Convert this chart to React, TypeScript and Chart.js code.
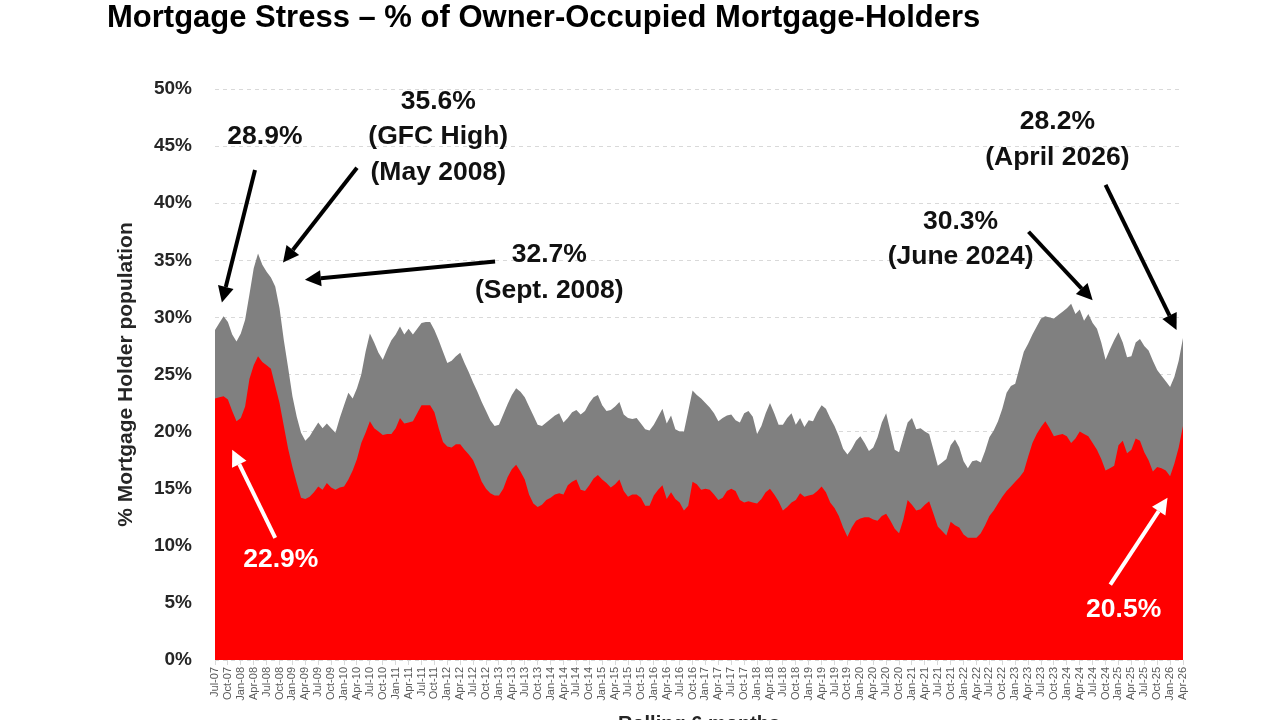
import React, { useEffect, useRef } from 'react';
import { Chart, registerables } from 'chart.js';

Chart.register(...registerables);

// ---------- categories (monthly, Jul-07 .. Apr-26) ----------
const MONTH_NAMES = ['Jan', 'Feb', 'Mar', 'Apr', 'May', 'Jun', 'Jul', 'Aug', 'Sep', 'Oct', 'Nov', 'Dec'];
const START_YEAR = 2007;
const START_MONTH = 6; // July
const MONTH_COUNT = 226;
const categories: string[] = Array.from({ length: MONTH_COUNT }, (_, i) => {
  const m = (START_MONTH + i) % 12;
  const y = START_YEAR + Math.floor((START_MONTH + i) / 12);
  return `${MONTH_NAMES[m]}-${String(y % 100).padStart(2, '0')}`;
});

// ---------- series (% of owner-occupied mortgage holders) ----------
// Grey area: mortgage holders "at risk" (total mortgage stress)
const atRisk: number[] = [
  // 2007 Jul-Dec
  28.9, 29.5, 30.1, 29.6, 28.5, 27.9,
  // 2008
  28.6, 29.8, 32.0, 34.3, 35.6, 34.6, 34.0, 33.5, 32.7, 30.8, 28.0, 25.6,
  // 2009
  23.1, 21.3, 19.9, 19.2, 19.6, 20.2, 20.8, 20.3, 20.7, 20.3, 19.9, 21.2,
  // 2010
  22.3, 23.4, 22.9, 23.8, 25.0, 27.0, 28.6, 27.8, 26.9, 26.3, 27.2, 28.0,
  // 2011
  28.5, 29.2, 28.5, 29.0, 28.5, 29.0, 29.5, 29.6, 29.6, 28.9, 28.0, 27.0,
  // 2012
  26.0, 26.2, 26.6, 26.9, 26.0, 25.2, 24.3, 23.5, 22.6, 21.8, 21.0, 20.5,
  // 2013
  20.6, 21.5, 22.4, 23.2, 23.8, 23.5, 23.0, 22.2, 21.4, 20.6, 20.5, 20.8,
  // 2014
  21.1, 21.4, 21.6, 20.8, 21.2, 21.7, 21.9, 21.5, 21.8, 22.5, 23.0, 23.2,
  // 2015
  22.3, 21.8, 21.9, 22.2, 22.6, 21.5, 21.2, 21.1, 21.2, 20.7, 20.2, 20.1,
  // 2016
  20.6, 21.3, 22.0, 20.7, 21.4, 20.2, 20.0, 20.0, 21.8, 23.6, 23.2, 22.9,
  // 2017
  22.5, 22.1, 21.6, 20.9, 21.2, 21.4, 21.5, 21.0, 20.8, 21.6, 21.8, 21.3,
  // 2018
  19.8, 20.5, 21.6, 22.5, 21.6, 20.6, 20.6, 21.2, 21.6, 20.6, 21.2, 20.4,
  // 2019
  21.0, 20.9, 21.7, 22.3, 22.0, 21.2, 20.5, 19.6, 18.5, 18.0, 18.5, 19.2,
  // 2020
  19.6, 19.0, 18.3, 18.6, 19.5, 20.8, 21.6, 20.0, 18.4, 18.2, 19.5, 20.8,
  // 2021
  21.2, 20.2, 20.3, 20.0, 19.8, 18.4, 17.0, 17.3, 17.6, 18.8, 19.3, 18.6,
  // 2022
  17.4, 16.8, 17.4, 17.5, 17.3, 18.3, 19.5, 20.1, 20.9, 22.0, 23.4, 24.0,
  // 2023
  24.2, 25.6, 27.0, 27.7, 28.5, 29.2, 29.9, 30.1, 30.0, 29.9, 30.2, 30.5,
  // 2024
  30.8, 31.2, 30.3, 30.7, 29.7, 30.3, 29.5, 29.0, 27.8, 26.3, 27.2, 28.0,
  // 2025
  28.7, 27.8, 26.5, 26.6, 27.8, 28.1, 27.5, 27.1, 26.2, 25.4, 24.9, 24.4,
  // 2026 Jan-Apr
  23.9, 24.8, 26.2, 28.2,
];

// Red area: mortgage holders "extremely at risk"
const extremelyAtRisk: number[] = [
  // 2007 Jul-Dec
  22.9, 23.0, 23.1, 22.8, 21.8, 20.9,
  // 2008
  21.2, 22.2, 24.6, 25.8, 26.6, 26.1, 25.8, 25.5, 24.0, 22.5, 20.5, 18.5,
  // 2009
  16.9, 15.5, 14.2, 14.1, 14.3, 14.7, 15.2, 14.9, 15.5, 15.1, 14.9, 15.1,
  // 2010
  15.2, 15.8, 16.6, 17.6, 19.0, 19.9, 20.9, 20.3, 20.0, 19.7, 19.8, 19.8,
  // 2011
  20.3, 21.2, 20.7, 20.8, 20.9, 21.6, 22.3, 22.3, 22.3, 21.7, 20.3, 19.1,
  // 2012
  18.7, 18.6, 18.9, 18.9, 18.4, 18.0, 17.5, 16.6, 15.6, 15.0, 14.6, 14.4,
  // 2013
  14.4, 15.0, 16.0, 16.7, 17.1, 16.5, 15.8, 14.5, 13.7, 13.4, 13.6, 14.0,
  // 2014
  14.2, 14.5, 14.6, 14.5, 15.3, 15.6, 15.8, 14.9, 14.8, 15.3, 15.9, 16.2,
  // 2015
  15.8, 15.5, 15.1, 15.4, 15.8, 14.8, 14.3, 14.5, 14.5, 14.2, 13.5, 13.5,
  // 2016
  14.4, 14.9, 15.3, 14.1, 14.7, 14.1, 13.8, 13.1, 13.5, 15.6, 15.4, 14.9,
  // 2017
  15.0, 14.9, 14.5, 14.0, 14.2, 14.8, 15.0, 14.8, 14.0, 13.8, 13.9, 13.8,
  // 2018
  13.7, 14.1, 14.7, 15.0, 14.5, 13.9, 13.1, 13.4, 13.8, 14.0, 14.6, 14.3,
  // 2019
  14.4, 14.5, 14.8, 15.2, 14.7, 13.8, 13.3, 12.6, 11.6, 10.8, 11.6, 12.2,
  // 2020
  12.4, 12.5, 12.5, 12.3, 12.2, 12.6, 12.8, 12.2, 11.5, 11.1, 12.3, 14.0,
  // 2021
  13.6, 13.1, 13.2, 13.6, 13.9, 12.8, 11.7, 11.3, 10.9, 12.1, 11.8, 11.6,
  // 2022
  11.0, 10.7, 10.7, 10.7, 11.1, 11.8, 12.6, 13.1, 13.7, 14.3, 14.8, 15.2,
  // 2023
  15.6, 16.0, 16.5, 17.8, 19.0, 19.8, 20.4, 20.9, 20.3, 19.6, 19.7, 19.8,
  // 2024
  19.6, 19.0, 19.4, 20.0, 19.8, 19.6, 19.0, 18.4, 17.6, 16.6, 16.8, 17.0,
  // 2025
  18.8, 19.2, 18.1, 18.4, 19.4, 19.2, 18.2, 17.5, 16.5, 16.9, 16.8, 16.6,
  // 2026 Jan-Apr
  16.1, 17.2, 18.6, 20.5,
];

// ---------- axis ----------
const Y_MIN = 0;
const Y_MAX = 50;
const Y_STEP = 5;
const TICK_EVERY = 3; // a tick label every quarter

// ---------- text ----------
const TITLE = 'Mortgage Stress \u2013 % of Owner-Occupied Mortgage-Holders';
const Y_TITLE = '% Mortgage Holder population';
const X_TITLE = 'Rolling 6 months';

// ---------- annotations (positions in data space: month index, % value) ----------
type Note = { lines: string[]; x: number; y: number[]; color: string };
const notes: Note[] = [
  { lines: ['28.9%'], x: 11.6, y: [45.8], color: '#111111' },
  { lines: ['35.6%', '(GFC High)', '(May 2008)'], x: 51.9, y: [48.9, 45.8, 42.7], color: '#111111' },
  { lines: ['32.7%', '(Sept. 2008)'], x: 77.7, y: [35.5, 32.3], color: '#111111' },
  { lines: ['30.3%', '(June 2024)'], x: 173.3, y: [38.4, 35.3], color: '#111111' },
  { lines: ['28.2%', '(April 2026)'], x: 195.8, y: [47.1, 44.0], color: '#111111' },
  { lines: ['22.9%'], x: 15.3, y: [8.8], color: '#ffffff' },
  { lines: ['20.5%'], x: 211.2, y: [4.4], color: '#ffffff' },
];
type Arrow = { from: [number, number]; to: [number, number]; color: string };
const arrows: Arrow[] = [
  { from: [9.3, 42.9], to: [1.6, 31.3], color: '#000000' },
  { from: [33.0, 43.1], to: [15.8, 34.8], color: '#000000' },
  { from: [65.1, 34.9], to: [20.9, 33.3], color: '#000000' },
  { from: [189.1, 37.5], to: [204.0, 31.5], color: '#000000' },
  { from: [207.0, 41.6], to: [223.5, 28.9], color: '#000000' },
  { from: [14.0, 10.7], to: [4.0, 18.4], color: '#ffffff' },
  { from: [208.1, 6.6], to: [221.4, 14.2], color: '#ffffff' },
];

const FONT = '"Liberation Sans", Arial, sans-serif';

const overlayPlugin = {
  id: 'overlay',
  afterDraw(chart: any) {
    const { ctx, scales, chartArea } = chart;
    const xs = scales.x;
    const ys = scales.y;
    ctx.save();
    // title
    ctx.fillStyle = '#000000';
    ctx.font = `bold 31px ${FONT}`;
    ctx.textAlign = 'left';
    ctx.textBaseline = 'middle';
    ctx.fillText(TITLE, 107, 18);
    // y title
    ctx.save();
    ctx.translate(126, (chartArea.top + chartArea.bottom) / 2);
    ctx.rotate(-Math.PI / 2);
    ctx.textAlign = 'center';
    ctx.textBaseline = 'middle';
    ctx.font = `bold 21px ${FONT}`;
    ctx.fillStyle = '#262626';
    ctx.fillText(Y_TITLE, 0, 0);
    ctx.restore();
    // x title (mostly below the visible area)
    ctx.textAlign = 'center';
    ctx.textBaseline = 'top';
    ctx.font = `bold 20px ${FONT}`;
    ctx.fillStyle = '#262626';
    ctx.fillText(X_TITLE, (chartArea.left + chartArea.right) / 2, 714);

    // arrows
    for (const a of arrows) {
      const x1 = xs.getPixelForValue(a.from[0]);
      const y1 = ys.getPixelForValue(a.from[1]);
      const x2 = xs.getPixelForValue(a.to[0]);
      const y2 = ys.getPixelForValue(a.to[1]);
      const ang = Math.atan2(y2 - y1, x2 - x1);
      const headLen = 16;
      const headW = 8;
      const bx = x2 - headLen * Math.cos(ang);
      const by = y2 - headLen * Math.sin(ang);
      ctx.strokeStyle = a.color;
      ctx.fillStyle = a.color;
      ctx.lineWidth = 4;
      ctx.lineCap = 'butt';
      ctx.beginPath();
      ctx.moveTo(x1, y1);
      ctx.lineTo(bx, by);
      ctx.stroke();
      ctx.beginPath();
      ctx.moveTo(x2, y2);
      ctx.lineTo(bx + headW * Math.sin(ang), by - headW * Math.cos(ang));
      ctx.lineTo(bx - headW * Math.sin(ang), by + headW * Math.cos(ang));
      ctx.closePath();
      ctx.fill();
    }
    // notes
    ctx.textAlign = 'center';
    ctx.textBaseline = 'middle';
    ctx.font = `bold 26.5px ${FONT}`;
    for (const n of notes) {
      ctx.fillStyle = n.color;
      const px = xs.getPixelForValue(n.x);
      n.lines.forEach((line, k) => {
        ctx.fillText(line, px, ys.getPixelForValue(n.y[k]));
      });
    }
    ctx.restore();
  },
};

export default function App() {
  const canvasRef = useRef<HTMLCanvasElement | null>(null);

  useEffect(() => {
    document.body.style.margin = '0';
    const canvas = canvasRef.current;
    if (!canvas) return;
    const chart = new Chart(canvas, {
      type: 'line',
      data: {
        labels: categories,
        datasets: [
          {
            label: 'Extremely At Risk',
            data: extremelyAtRisk,
            backgroundColor: '#ff0000',
            borderColor: '#ff0000',
            borderWidth: 0,
            pointRadius: 0,
            fill: 'origin',
            tension: 0,
          },
          {
            label: 'At Risk',
            data: atRisk,
            backgroundColor: '#808080',
            borderColor: '#808080',
            borderWidth: 0,
            pointRadius: 0,
            fill: 'origin',
            tension: 0,
          },
        ],
      },
      options: {
        animation: false,
        responsive: false,
        devicePixelRatio: 1,
        layout: { padding: { top: 89, left: 0, right: 97, bottom: 0 } },
        plugins: {
          legend: { display: false },
          title: { display: false },
          tooltip: { enabled: false },
        },
        scales: {
          x: {
            type: 'category',
            offset: false,
            border: { display: false },
            grid: {
              drawOnChartArea: false,
              drawTicks: true,
              tickLength: 5,
              color: '#d9d9d9',
            },
            ticks: {
              autoSkip: false,
              minRotation: 90,
              maxRotation: 90,
              padding: 2,
              color: '#595959',
              font: { family: FONT, size: 11 },
            },
            afterBuildTicks: (scale: any) => {
              scale.ticks = scale.ticks.filter((_t: any, i: number) => i % TICK_EVERY === 0);
            },
            afterFit: (scale: any) => {
              scale.height = 60;
            },
          },
          y: {
            min: Y_MIN,
            max: Y_MAX,
            border: { display: false, dash: [4, 4] },
            grid: {
              drawTicks: false,
              color: '#d9d9d9',
              lineWidth: 1,
            },
            ticks: {
              stepSize: Y_STEP,
              padding: 23,
              color: '#262626',
              font: { family: FONT, size: 19, weight: 'bold' },
              callback: (v: any) => `${v}%`,
            },
            afterFit: (scale: any) => {
              scale.width = 215;
            },
          },
        },
      },
      plugins: [overlayPlugin],
    } as any);
    return () => chart.destroy();
  }, []);

  return (
    <div style={{ position: 'fixed', left: 0, top: 0, width: 1280, height: 720, background: '#ffffff' }}>
      <canvas ref={canvasRef} width={1280} height={720} />
    </div>
  );
}
